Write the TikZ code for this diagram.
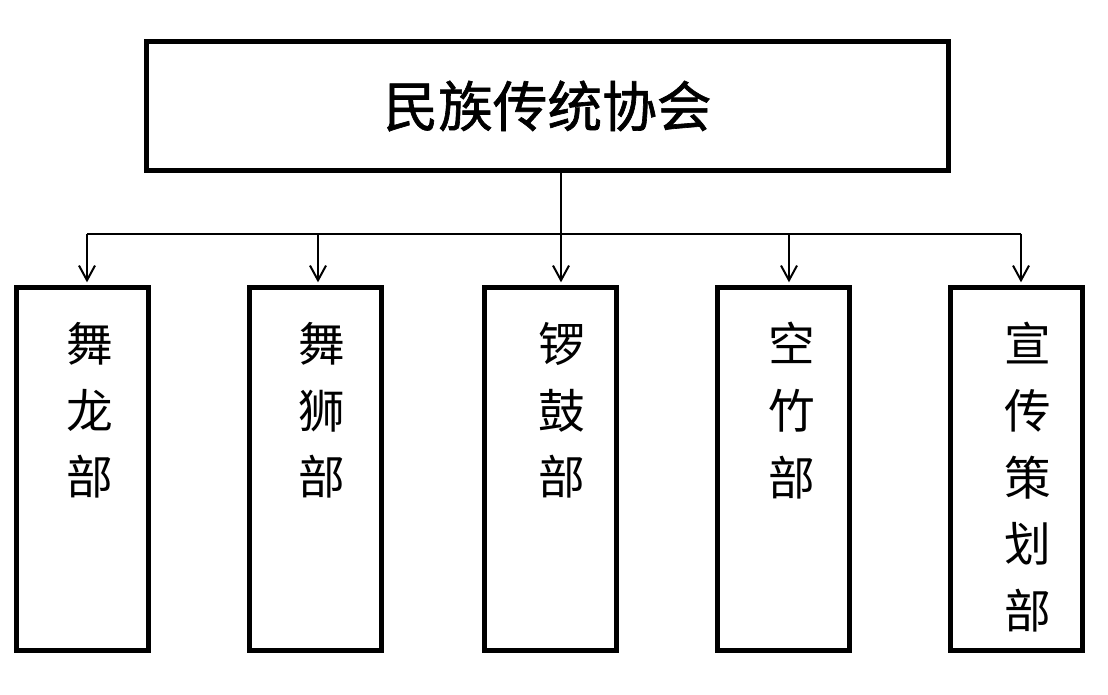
\documentclass[tikz,border=0pt]{standalone}
\usepackage{fontspec}
\newfontfamily\cjk{Noto Sans CJK SC}
\newfontfamily\cjktitle[FakeBold=1.2]{Noto Sans CJK SC}
\usetikzlibrary{arrows.meta}
\begin{document}
\begin{tikzpicture}[x=0.75pt,y=-0.75pt,
  topbox/.style={draw, line width=3.75pt, minimum width=601.5pt, minimum height=96.75pt, inner sep=0pt,
    font=\cjktitle\fontsize{41pt}{48pt}\selectfont},
  deptbox/.style={draw, line width=3.75pt, minimum width=99pt, minimum height=272.25pt, inner sep=0pt},
  vtext/.style={anchor=north, inner sep=0pt, align=center, font=\cjk\fontsize{35pt}{50pt}\selectfont},
  conn/.style={line width=1.5pt},
  arr/.style={line width=1.5pt, -{Straight Barb[length=11pt,width=12pt]}, shorten >=2pt}]
\useasboundingbox (0,0) rectangle (1108,694);
\fill[white] (0,0) rectangle (1108,694);
\node[topbox] (top) at (547.5,106) {民族传统协会};
\node[deptbox] (b1) at (82.5,469) {};
\node[deptbox] (b2) at (315.5,469) {};
\node[deptbox] (b3) at (550,469) {};
\node[deptbox] (b4) at (783,469) {};
\node[deptbox] (b5) at (1016.5,469) {};
\node[vtext] (t1) at (90,322) {舞\\龙\\部};
\node[vtext] (t2) at (322,322) {舞\\狮\\部};
\node[vtext] (t3) at (562,322) {锣\\鼓\\部};
\node[vtext] (t4) at (792,322) {空\\竹\\部};
\node[vtext] (t5) at (1028,322) {宣\\传\\策\\划\\部};
\coordinate (j) at (561,233.5);
\coordinate (h1) at (87,233.5);
\coordinate (h2) at (318,233.5);
\coordinate (h4) at (789,233.5);
\coordinate (h5) at (1021,233.5);
\draw[conn] (top.south -| j) -- (j);
\draw[conn] (h1) -- (h5);
\draw[arr] (h1) -- (h1 |- b1.north);
\draw[arr] (h2) -- (h2 |- b2.north);
\draw[arr] (j) -- (j |- b3.north);
\draw[arr] (h4) -- (h4 |- b4.north);
\draw[arr] (h5) -- (h5 |- b5.north);
\end{tikzpicture}
\end{document}
